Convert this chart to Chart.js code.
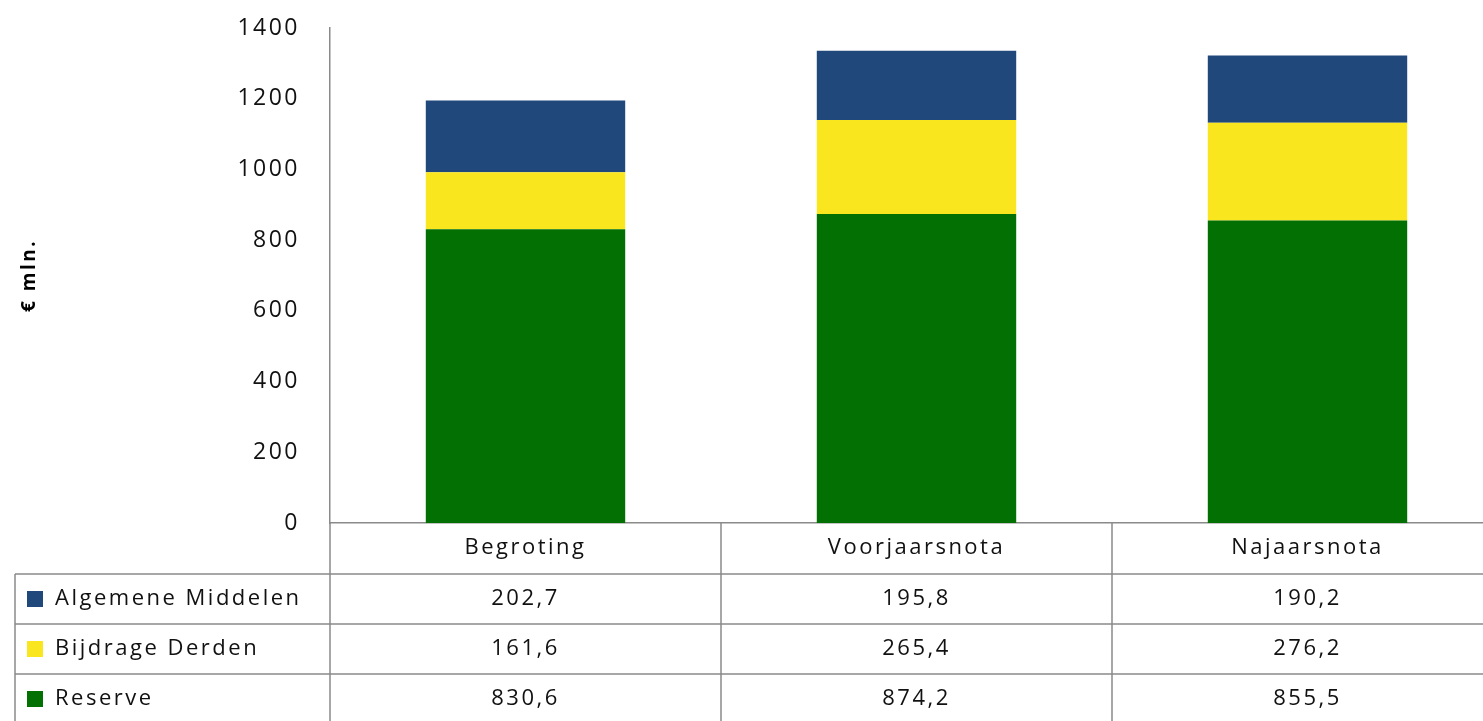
<!DOCTYPE html>
<html>
<head>
<meta charset="utf-8">
<script src="https://cdn.jsdelivr.net/npm/chart.js@4/dist/chart.umd.min.js"></script>
<style>
  html, body { margin: 0; padding: 0; background: #fff; overflow: hidden; }
  #wrap { position: absolute; left: 0; top: 0; width: 1503px; height: 726px; }
</style>
</head>
<body>
<div id="wrap"><canvas id="chart" width="1503" height="726"></canvas></div>
<script>
// data
const categories = ["Begroting", "Voorjaarsnota", "Najaarsnota"];
const reserve = [830.6, 874.2, 855.5];
const bijdrageDerden = [161.6, 265.4, 276.2];
const algemeneMiddelen = [202.7, 195.8, 190.2];
const yTicks = [0, 200, 400, 600, 800, 1000, 1200, 1400];

const FONT = "'Open Sans', 'Noto Sans', sans-serif";
const LINE = "#8a8a8a";
const TEXT = "#111";
const SPACING = "2.5px";

const datasets = [
  { label: "Reserve", data: reserve, backgroundColor: "#027002" },
  { label: "Bijdrage Derden", data: bijdrageDerden, backgroundColor: "#fae61f" },
  { label: "Algemene Middelen", data: algemeneMiddelen, backgroundColor: "#21487b" },
];

const fmt = (v) => v.toFixed(1).replace(".", ",");

// data table under the plot, built from the same arrays and the x scale
const dataTable = {
  id: "dataTable",
  beforeDraw(chart) {
    chart.ctx.letterSpacing = SPACING;
  },
  afterDraw(chart) {
    const ctx = chart.ctx;
    const xs = chart.scales.x;
    const area = chart.chartArea;
    const headH = 51, rowH = 50, tableLeft = 15;
    const colW = xs.getPixelForValue(1) - xs.getPixelForValue(0);
    const bottom = chart.height;
    const rows = [...datasets].reverse();

    ctx.save();
    ctx.strokeStyle = LINE;
    ctx.lineWidth = 1.5;
    ctx.beginPath();
    // horizontal row lines
    for (let k = 0; k <= rows.length; k++) {
      const y = area.bottom + headH + k * rowH;
      ctx.moveTo(tableLeft, y);
      ctx.lineTo(area.right, y);
    }
    // vertical lines
    ctx.moveTo(tableLeft, area.bottom + headH);
    ctx.lineTo(tableLeft, bottom);
    ctx.moveTo(area.left, area.bottom);
    ctx.lineTo(area.left, bottom);
    categories.forEach((c, i) => {
      const xb = xs.getPixelForValue(i) + colW / 2;
      ctx.moveTo(xb, area.bottom);
      ctx.lineTo(xb, bottom);
    });
    ctx.stroke();

    ctx.letterSpacing = SPACING;
    ctx.font = "22px " + FONT;
    ctx.textBaseline = "middle";
    rows.forEach((ds, r) => {
      const yc = area.bottom + headH + r * rowH + rowH / 2;
      ctx.fillStyle = ds.backgroundColor;
      ctx.fillRect(tableLeft + 12, yc - 8, 16, 16);
      ctx.fillStyle = TEXT;
      ctx.textAlign = "left";
      ctx.fillText(ds.label, tableLeft + 40, yc);
      ctx.textAlign = "center";
      ds.data.forEach((v, i) => {
        ctx.fillText(fmt(v), xs.getPixelForValue(i), yc);
      });
    });
    ctx.restore();
  },
};

new Chart(document.getElementById("chart"), {
  type: "bar",
  data: { labels: categories, datasets: datasets },
  options: {
    responsive: false,
    animation: false,
    layout: { autoPadding: false, padding: { top: 28, left: 0, right: 0, bottom: 0 } },
    plugins: { legend: { display: false }, tooltip: { enabled: false } },
    datasets: { bar: { categoryPercentage: 1, barPercentage: 0.51 } },
    scales: {
      x: {
        stacked: true,
        grid: { display: false, drawTicks: false },
        border: { display: true, color: LINE, width: 1.5 },
        ticks: { color: TEXT, font: { size: 22, family: FONT }, padding: 12 },
        afterFit: (s) => {
          s.height = 726 - 523;
          s.paddingLeft = 0;
          s.paddingRight = 0;
        },
      },
      y: {
        stacked: true,
        min: 0,
        max: 1400,
        afterBuildTicks: (s) => { s.ticks = yTicks.map((v) => ({ value: v })); },
        grid: { display: false, drawTicks: false },
        border: { display: true, color: LINE, width: 1.5 },
        ticks: {
          color: TEXT,
          font: { size: 23, family: FONT },
          padding: 30,
          callback: (v) => String(v),
        },
        title: {
          display: true,
          text: "€ mln.",
          color: "#000",
          font: { size: 19, weight: "bold", family: FONT },
          padding: { top: 18, bottom: 0 },
        },
        afterFit: (s) => {
          s.width = 330;
          s.paddingTop = 0;
          s.paddingBottom = 0;
        },
      },
    },
  },
  plugins: [dataTable],
});
</script>
</body>
</html>
